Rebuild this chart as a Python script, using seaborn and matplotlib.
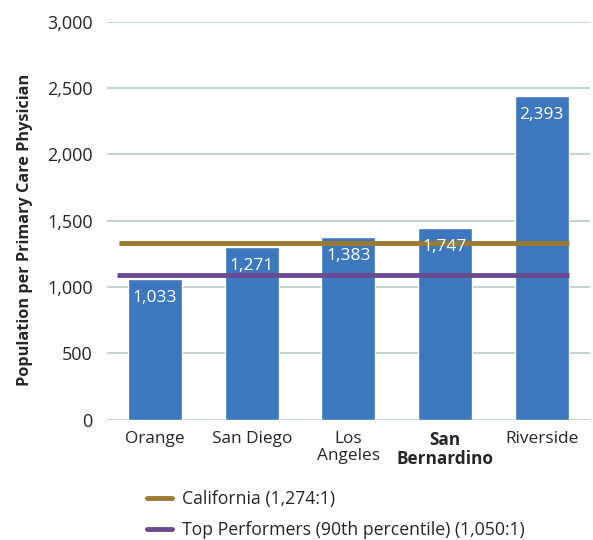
import numpy as np
import pandas as pd
import matplotlib.pyplot as plt
import seaborn as sns
from matplotlib.lines import Line2D

# values
counties = ["Orange", "San Diego", "Los\nAngeles", "San\nBernardino", "Riverside"]
bar_heights = [1060, 1300, 1375, 1443, 2438]
bar_labels = ["1,033", "1,271", "1,383", "1,747", "2,393"]
california = 1328
top_performers = 1090
legend_labels = ["California (1,274:1)", "Top Performers (90th percentile) (1,050:1)"]

bar_color = "#3d78be"
ca_color = "#9c7a31"
top_color = "#6b4a8f"
grid_color = "#b9cfc3"

sns.set_style("white")
plt.rcParams['font.family'] = ['Open Sans', 'DejaVu Sans']

df = pd.DataFrame({"county": counties, "value": bar_heights})

fig = plt.figure(figsize=(5.93, 5.4), dpi=100)
ax = fig.add_axes([0.18, 0.223, 0.815, 0.737])

sns.barplot(data=df, x="county", y="value", color=bar_color, width=0.56,
            saturation=1, ax=ax, zorder=3)

ax.set_ylim(0, 3000)
ax.set_xlim(-0.5, 4.5)
ax.set_yticks(np.arange(0, 3001, 500))
ax.set_yticklabels([f"{v:,}" for v in range(0, 3001, 500)], fontsize=13)
ax.yaxis.grid(True, color=grid_color, linewidth=1.2, zorder=0)
ax.tick_params(axis="y", length=0, pad=10)
ax.tick_params(axis="x", length=0, pad=8)
for s in ax.spines.values():
    s.set_visible(False)

ax.set_xlabel("")
ax.set_ylabel("Population per Primary Care Physician", fontsize=11.7,
              fontweight="bold")
ax.yaxis.set_label_coords(-0.152, 0.476)
ax.set_xticks(range(len(counties)))
ax.set_xticklabels(counties, fontsize=12.4, linespacing=1.1)
ax.get_xticklabels()[3].set_fontweight("bold")

# reference lines
ax.hlines(california, -0.37, 4.28, color=ca_color, linewidth=3.5, zorder=4)
ax.hlines(top_performers, -0.39, 4.28, color=top_color, linewidth=3.5, zorder=4)

# value labels inside bars
for i, (h, lab) in enumerate(zip(bar_heights, bar_labels)):
    ax.text(i, h - 140, lab, ha="center", va="center", color="white",
            fontsize=12.5, zorder=5)

handles = [Line2D([0], [0], color=ca_color, linewidth=3.5),
           Line2D([0], [0], color=top_color, linewidth=3.5)]
fig.legend(handles, legend_labels, loc="upper left", bbox_to_anchor=(0.236, 0.106),
           frameon=False, fontsize=12.7, handlelength=1.4, handletextpad=0.6,
           labelspacing=0.75, borderaxespad=0)

fig.savefig("out.png", dpi=100)
